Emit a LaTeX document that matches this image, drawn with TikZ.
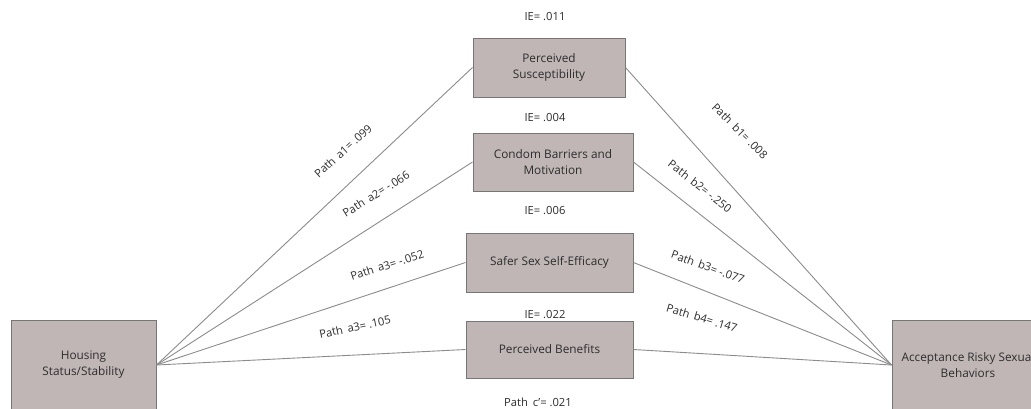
\documentclass[tikz,border=0pt]{standalone}
\usepackage{fontspec}
\setmainfont{Open Sans}
\definecolor{boxfill}{RGB}{192,182,182}
\definecolor{boxline}{RGB}{118,118,118}
\definecolor{conn}{RGB}{140,140,140}
\definecolor{txt}{RGB}{45,45,45}
\tikzset{
  varbox/.style={draw=boxline, line width=1pt, fill=boxfill, align=center, inner sep=0pt,
     font=\fontsize{11.8}{16}\selectfont, text=txt},
  lab/.style={font=\fontsize{11.2}{12}\selectfont, text=txt, inner sep=0pt},
  conline/.style={draw=conn, line width=0.9pt}
}
\begin{document}
\begin{tikzpicture}[x=1pt,y=-1pt]
\clip (0,0) rectangle (1031,408);
\fill[white] (0,0) rectangle (1031,408);
% boxes
\node[varbox, minimum width=145pt, minimum height=90pt] (H) at (83.5,365) {Housing\\Status/Stability};
\node[varbox, minimum width=152pt, minimum height=90pt] (Y) at (968,365) {Acceptance Risky Sexual\\Behaviors};
\node[varbox, minimum width=152pt, minimum height=59pt] (M1) at (549,67.5) {Perceived\\Susceptibility};
\node[varbox, minimum width=160pt, minimum height=58pt] (M2) at (553,162) {Condom Barriers and\\Motivation};
\node[varbox, minimum width=167pt, minimum height=59pt] (M3) at (549.5,262.5) {Safer Sex Self-Efficacy};
\node[varbox, minimum width=167pt, minimum height=57pt] (M4) at (549.5,349.5) {Perceived Benefits};
% connectors
\foreach \m in {M1,M2,M3,M4}{
  \draw[conline] (H.east) -- (\m.west);
  \draw[conline] (\m.east) -- (Y.west);
}
% IE labels
\node[lab] (ie1) at (545,17) {IE= .011};
\node[lab] (ie2) at (545,118) {IE= .004};
\node[lab] (ie3) at (545,211) {IE= .006};
\node[lab] (ie4) at (545,315) {IE= .022};
\node[lab] (c) at (538,402) {Path\, c'= .021};
% path labels
\node[lab, rotate=42] (a1) at (343,151) {Path\, a1= .099};
\node[lab, rotate=32] (a2) at (376,194) {Path\, a2= -.066};
\node[lab, rotate=18] (a3) at (387,265) {Path\, a3= -.052};
\node[lab, rotate=12] (a4) at (355,327) {Path\, a3= .105};
\node[lab, rotate=-45] (b1) at (740,131) {Path\, b1= .008};
\node[lab, rotate=-38] (b2) at (700,186) {Path\, b2= -.250};
\node[lab, rotate=-20] (b3) at (708,267) {Path\, b3= -.077};
\node[lab, rotate=-17] (b4) at (702,318) {Path\, b4= .147};
\end{tikzpicture}
\end{document}
